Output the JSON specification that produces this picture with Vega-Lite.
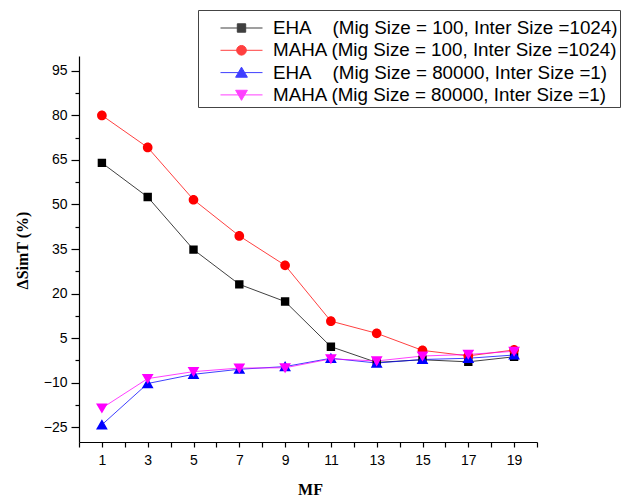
{
  "$schema": "https://vega.github.io/schema/vega-lite/v6.json",
  "width": 458,
  "height": 386,
  "autosize": {"type": "none"},
  "padding": {"left": 79, "top": 56, "right": 85, "bottom": 55},
  "background": "white",
  "config": {"view": {"stroke": null}, "font": "Liberation Sans"},
  "data": {
    "values": [
      {"x": 1, "y": 64.0, "s": "A"},
      {"x": 3, "y": 52.5, "s": "A"},
      {"x": 5, "y": 34.8, "s": "A"},
      {"x": 7, "y": 23.1, "s": "A"},
      {"x": 9, "y": 17.3, "s": "A"},
      {"x": 11, "y": 2.1, "s": "A"},
      {"x": 13, "y": -3.2, "s": "A"},
      {"x": 15, "y": -2.3, "s": "A"},
      {"x": 17, "y": -3.0, "s": "A"},
      {"x": 19, "y": -1.3, "s": "A"},
      {"x": 1, "y": 80.0, "s": "B"},
      {"x": 3, "y": 69.2, "s": "B"},
      {"x": 5, "y": 51.6, "s": "B"},
      {"x": 7, "y": 39.4, "s": "B"},
      {"x": 9, "y": 29.5, "s": "B"},
      {"x": 11, "y": 10.7, "s": "B"},
      {"x": 13, "y": 6.6, "s": "B"},
      {"x": 15, "y": 0.85, "s": "B"},
      {"x": 17, "y": -1.0, "s": "B"},
      {"x": 19, "y": 1.0, "s": "B"},
      {"x": 1, "y": -24.2, "s": "C"},
      {"x": 3, "y": -10.3, "s": "C"},
      {"x": 5, "y": -7.2, "s": "C"},
      {"x": 7, "y": -5.5, "s": "C"},
      {"x": 9, "y": -4.6, "s": "C"},
      {"x": 11, "y": -1.8, "s": "C"},
      {"x": 13, "y": -3.4, "s": "C"},
      {"x": 15, "y": -2.2, "s": "C"},
      {"x": 17, "y": -1.8, "s": "C"},
      {"x": 19, "y": -0.7, "s": "C"},
      {"x": 1, "y": -18.6, "s": "D"},
      {"x": 3, "y": -8.65, "s": "D"},
      {"x": 5, "y": -6.3, "s": "D"},
      {"x": 7, "y": -5.1, "s": "D"},
      {"x": 9, "y": -5.0, "s": "D"},
      {"x": 11, "y": -2.0, "s": "D"},
      {"x": 13, "y": -2.7, "s": "D"},
      {"x": 15, "y": -1.05, "s": "D"},
      {"x": 17, "y": -0.5, "s": "D"},
      {"x": 19, "y": 0.55, "s": "D"}
    ]
  },
  "encoding": {
    "x": {
      "field": "x",
      "type": "quantitative",
      "scale": {"domain": [0, 20], "nice": false, "zero": false},
      "axis": {
        "values": [0,1,2,3,4,5,6,7,8,9,10,11,12,13,14,15,16,17,18,19,20],
        "labelExpr": "datum.value % 2 == 1 ? datum.label : ''",
        "labelOverlap": false,
        "labelFlush": false,
        "grid": false,
        "tickSize": 5,
        "tickColor": "black",
        "domainColor": "black",
        "domainWidth": 1.2,
        "tickWidth": 1.2,
        "labelColor": "black",
        "labelFont": "Liberation Sans",
        "labelFontSize": 14,
        "labelPadding": 6,
        "title": "MF",
        "titleFont": "Liberation Serif",
        "titleFontWeight": "bold",
        "titleFontSize": 16,
        "titleColor": "black",
        "titleBaseline": "alphabetic",
        "titleX": 231,
        "titleY": 52
      }
    }
  },
  "resolve": {"axis": {"y": "independent"}},
  "layer": [
    {
      "mark": {"type": "line", "strokeWidth": 1, "opacity": 0.75},
      "encoding": {
        "y": {
          "field": "y",
          "type": "quantitative",
          "scale": {"domain": [-30, 100], "nice": false, "zero": false},
          "axis": {
            "orient": "left",
            "values": [-17.5,-2.5,12.5,27.5,42.5,57.5,72.5,87.5],
            "labels": false,
            "domain": false,
            "grid": false,
            "tickSize": 4,
            "tickColor": "black",
            "tickWidth": 1.2,
            "title": null
          }
        },
        "color": {
          "field": "s",
          "type": "nominal",
          "scale": {"domain": ["A", "B", "C", "D"], "range": ["#000000", "#FF0000", "#0000FF", "#FF00FF"]}
        }
      }
    },
    {
      "mark": {"type": "point", "filled": true, "opacity": 1, "size": 1764},
      "encoding": {
        "y": {
          "field": "y",
          "type": "quantitative",
          "scale": {"domain": [-30, 100], "nice": false, "zero": false},
          "axis": {
            "orient": "left",
            "values": [-25,-10,5,20,35,50,65,80,95],
            "labelOverlap": false,
            "labelFlush": false,
            "grid": false,
            "tickSize": 8,
            "tickColor": "black",
            "domainColor": "black",
            "domainWidth": 1.2,
            "tickWidth": 1.2,
            "labelColor": "black",
            "labelFont": "Liberation Sans",
            "labelFontSize": 14,
            "labelPadding": 4,
            "title": "ΔSimT (%)",
            "titleFont": "Liberation Serif",
            "titleFontWeight": "bold",
            "titleFontSize": 16,
            "titleColor": "black",
            "titleAngle": 270,
            "titleBaseline": "middle",
            "titleX": -57,
            "titleY": 194
          }
        },
        "color": {
          "field": "s",
          "type": "nominal",
          "scale": {"domain": ["A", "B", "C", "D"], "range": ["#000000", "#FF0000", "#0000FF", "#FF00FF"]},
          "legend": {
            "orient": "none",
            "legendX": 119,
            "legendY": -46,
            "title": "\u00a0",
            "titleFontSize": 5,
            "titlePadding": 1,
            "padding": 2,
            "strokeColor": "#444444",
            "fillColor": "white",
            "symbolSize": 1764,
            "symbolStrokeWidth": 1,
            "symbolOffset": 20,
            "labelOffset": 10,
            "clipHeight": 20,
            "labelFont": "Liberation Sans",
            "labelFontSize": 18.8,
            "labelColor": "black",
            "labelLimit": 1000,
            "rowPadding": 2.3,
            "labelExpr": "datum.value == 'A' ? 'EHA\u00a0\u00a0\u00a0\u00a0(Mig Size = 100, Inter Size =1024)\u00a0\u00a0\u00a0\u00a0' : datum.value == 'B' ? 'MAHA (Mig Size = 100, Inter Size =1024)\u00a0\u00a0\u00a0\u00a0' : datum.value == 'C' ? 'EHA\u00a0\u00a0\u00a0\u00a0(Mig Size = 80000, Inter Size =1)' : 'MAHA (Mig Size = 80000, Inter Size =1)'"
          }
        },
        "stroke": {
          "field": "s",
          "type": "nominal",
          "scale": {"domain": ["A", "B", "C", "D"], "range": ["#333333", "#FF3333", "#3333FF", "#FF33FF"]}
        },
        "shape": {
          "field": "s",
          "type": "nominal",
          "scale": {
            "domain": ["A", "B", "C", "D"],
            "range": [
              "M-1,0H1M-0.2,-0.2H0.2V0.2H-0.2Z",
              "M-1,0H1M0.23,0A0.23,0.23,0,1,1,-0.23,0A0.23,0.23,0,1,1,0.23,0Z",
              "M-1,0H1M0,-0.26L0.28,0.22L-0.28,0.22Z",
              "M-1,0H1M0,0.26L0.28,-0.22L-0.28,-0.22Z"
            ]
          }
        },
        "strokeWidth": {"value": 0}
      }
    }
  ]
}
